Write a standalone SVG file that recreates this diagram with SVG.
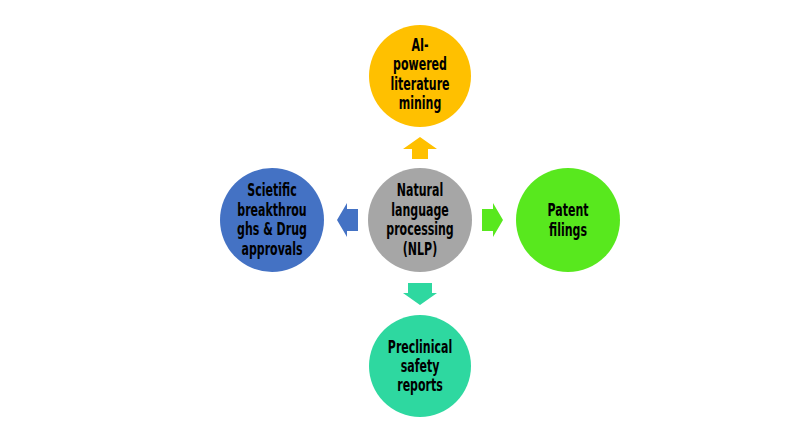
<svg xmlns="http://www.w3.org/2000/svg" width="802" height="435" viewBox="0 0 802 435">
<style>
text{font-family:"DejaVu Sans Condensed","DejaVu Sans",sans-serif;font-weight:bold;font-size:18px;fill:#000;text-anchor:middle;font-stretch:condensed}
</style>
<rect width="802" height="435" fill="#fff"/>
<g id="connectors">
<polygon points="420,137 437,149 428,149 428,159 412,159 412,149 403,149" fill="#FFC000"/>
<polygon points="337,220 347,203 347,209 358,209 358,231 347,231 347,237" fill="#4472C4"/>
<polygon points="503,220 493,203 493,209 482,209 482,231 493,231 493,237" fill="#58E81E"/>
<polygon points="420,305 437,293 432,293 432,283 408,283 408,293 403,293" fill="#2ED8A0"/>
</g>
<g id="center">
<circle cx="420" cy="220" r="52" fill="#A6A6A6"/>
<g transform="translate(420 0) scale(0.68 1)">
<text x="0" y="196.5">Natural</text>
<text x="0" y="216">language</text>
<text x="0" y="235.5">processing</text>
<text x="0" y="255">(NLP)</text>
</g>
</g>
<g id="top">
<circle cx="420" cy="76" r="51" fill="#FFC000"/>
<g transform="translate(420 0) scale(0.68 1)">
<text x="0" y="51">AI-</text>
<text x="0" y="70.5">powered</text>
<text x="0" y="90">literature</text>
<text x="0" y="109.5">mining</text>
</g>
</g>
<g id="left">
<circle cx="272" cy="220" r="52" fill="#4472C4"/>
<g transform="translate(272 0) scale(0.68 1)">
<text x="0" y="196.5">Scietific</text>
<text x="0" y="216">breakthrou</text>
<text x="0" y="235.5">ghs &amp; Drug</text>
<text x="0" y="255">approvals</text>
</g>
</g>
<g id="right">
<circle cx="568" cy="220" r="52" fill="#58E81E"/>
<g transform="translate(568 0) scale(0.68 1)">
<text x="0" y="216.5">Patent</text>
<text x="0" y="236">filings</text>
</g>
</g>
<g id="bottom">
<circle cx="420" cy="366" r="51" fill="#2ED8A0"/>
<g transform="translate(420 0) scale(0.68 1)">
<text x="0" y="353">Preclinical</text>
<text x="0" y="372">safety</text>
<text x="0" y="391.5">reports</text>
</g>
</g>
</svg>
